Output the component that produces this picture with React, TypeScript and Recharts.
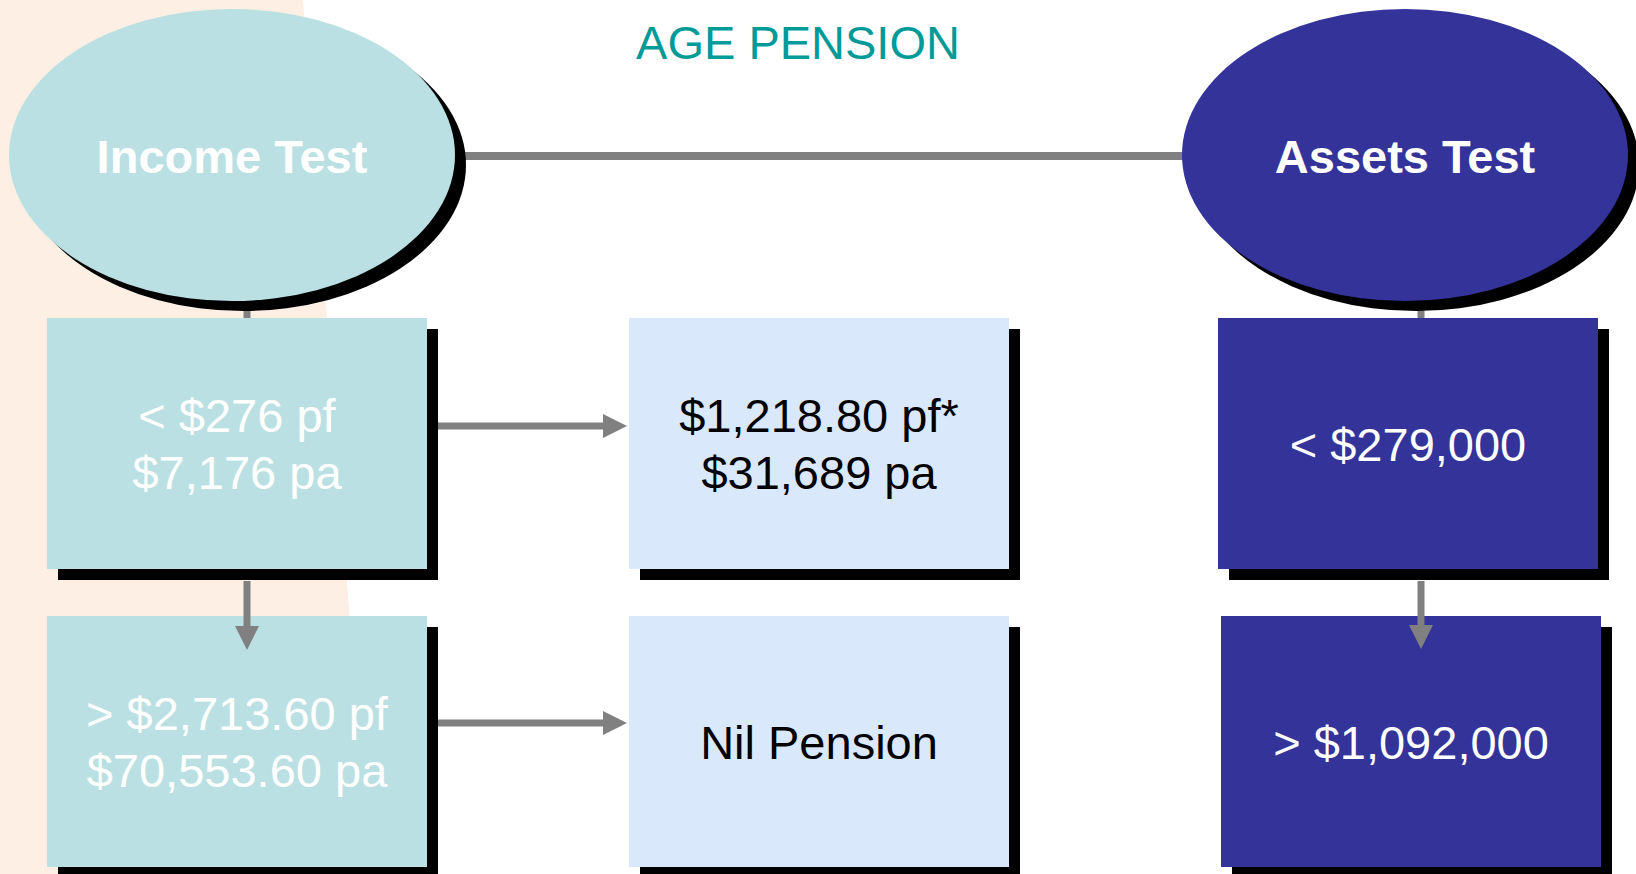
import { ComposedChart, XAxis, YAxis, ReferenceArea, ReferenceLine, Scatter } from 'recharts'

const W = 1636
const H = 874

// text content
const title = 'AGE PENSION'
const tests = ['Income Test', 'Assets Test']
const incomeLines = [['< $276 pf', '$7,176 pa'], ['> $2,713.60 pf', '$70,553.60 pa']]
const pensionLines = [['$1,218.80 pf*', '$31,689 pa'], ['Nil Pension']]
const assetsLines = [['< $279,000'], ['> $1,092,000']]

const TEAL = '#bbe0e3'
const PALE = '#dae8fc'
const NAVY = '#333399'
const GREY = '#808080'
const PEACH = '#fdefe3'
const FONT = '"Liberation Sans", Arial, sans-serif'

// layout in pixels, the axes run 1:1 with the canvas
const ellipseX = [232, 1405]
const ellipseY = 155
const RX = 223
const RY = 146
const rowTop = [318, 616]
const rowBottom = [569, 867]
const colLeft = [[47, 629, 1218], [47, 629, 1221]]
const BOX_W = 380
const SHADOW = 11
const LINE_GAP = 57

const ellipseData = tests.map((name, i) => ({ x: ellipseX[i], y: ellipseY, name, fill: i === 0 ? TEAL : NAVY }))

const boxes = [0, 1].flatMap(r => [
  { x: colLeft[r][0], r, fill: TEAL, color: '#ffffff', lines: incomeLines[r] },
  { x: colLeft[r][1], r, fill: PALE, color: '#000000', lines: pensionLines[r] },
  { x: colLeft[r][2], r, fill: NAVY, color: '#ffffff', lines: assetsLines[r] },
])

const boxLabel = (lines: string[], color: string) => (props: any) => {
  const { x, y, width, height } = props.viewBox
  const cx = x + width / 2
  const first = y + height / 2 - ((lines.length - 1) * LINE_GAP) / 2 + 17
  return (
    <text x={cx} textAnchor="middle" fill={color} fontFamily={FONT} fontSize={47}>
      {lines.map((l, i) => (
        <tspan key={i} x={cx} y={first + i * LINE_GAP}>{l}</tspan>
      ))}
    </text>
  )
}

const ellipseShape = (p: any) => (
  <g>
    <ellipse cx={p.cx + 11} cy={p.cy + 10} rx={RX} ry={RY} fill="#000" />
    <ellipse cx={p.cx} cy={p.cy} rx={RX} ry={RY} fill={p.payload.fill} />
    <text x={p.cx} y={p.cy + 18} textAnchor="middle" fill="#fff" fontFamily={FONT} fontWeight="bold" fontSize={47}>
      {p.payload.name}
    </text>
  </g>
)

const arrowShape = (p: any) => {
  const x1 = Number(p.x1), y1 = Number(p.y1), x2 = Number(p.x2), y2 = Number(p.y2)
  const len = Math.hypot(x2 - x1, y2 - y1) || 1
  const ux = (x2 - x1) / len
  const uy = (y2 - y1) / len
  const bx = x2 - ux * 24
  const by = y2 - uy * 24
  const px = -uy * 12
  const py = ux * 12
  return (
    <g>
      <line x1={x1} y1={y1} x2={bx} y2={by} stroke={GREY} strokeWidth={7} />
      <polygon points={`${x2},${y2} ${bx + px},${by + py} ${bx - px},${by - py}`} fill={GREY} />
    </g>
  )
}

const peachShape = (p: any) => (
  <path
    d={`M${p.x},${p.y} L${p.x + 303},${p.y} L${p.x + p.width},${p.y + p.height} L${p.x},${p.y + p.height} Z`}
    fill={PEACH}
  />
)

const arrows = [
  [{ x: 438, y: 426 }, { x: 627, y: 426 }],
  [{ x: 438, y: 723 }, { x: 627, y: 723 }],
  [{ x: 247, y: 581 }, { x: 247, y: 650 }],
  [{ x: 1421, y: 581 }, { x: 1421, y: 649 }],
]

export default function App() {
  return (
    <div style={{ position: 'absolute', left: 0, top: 0, width: W, height: H, background: '#fff' }}>
      <ComposedChart width={W} height={H} margin={{ top: 0, right: 0, bottom: 0, left: 0 }}>
        <XAxis type="number" dataKey="x" domain={[0, W]} hide allowDataOverflow />
        <YAxis type="number" dataKey="y" domain={[0, H]} reversed hide allowDataOverflow />

        <ReferenceArea x1={0} x2={369} y1={0} y2={H} fill={PEACH} fillOpacity={1} shape={peachShape} />

        {/* connectors */}
        <ReferenceLine segment={[{ x: 440, y: 156 }, { x: 1190, y: 156 }]} stroke={GREY} strokeWidth={8} />
        <ReferenceLine segment={[{ x: 247, y: 300 }, { x: 247, y: 318 }]} stroke={GREY} strokeWidth={7} />
        <ReferenceLine segment={[{ x: 1421, y: 300 }, { x: 1421, y: 318 }]} stroke={GREY} strokeWidth={7} />

        {boxes.map((b, i) => (
          <ReferenceArea
            key={`s${i}`}
            x1={b.x + SHADOW}
            x2={b.x + BOX_W + SHADOW}
            y1={rowTop[b.r] + SHADOW}
            y2={Math.min(rowBottom[b.r] + SHADOW, H)}
            fill="#000"
            fillOpacity={1}
          />
        ))}
        {boxes.map((b, i) => (
          <ReferenceArea
            key={`b${i}`}
            x1={b.x}
            x2={b.x + BOX_W}
            y1={rowTop[b.r]}
            y2={rowBottom[b.r]}
            fill={b.fill}
            fillOpacity={1}
            label={boxLabel(b.lines, b.color)}
          />
        ))}

        {arrows.map((seg, i) => (
          <ReferenceLine key={`a${i}`} segment={seg} stroke={GREY} strokeWidth={7} shape={arrowShape} />
        ))}

        <Scatter data={ellipseData} shape={ellipseShape} isAnimationActive={false} />

        <text x={798} y={59} textAnchor="middle" fill="#009a98" fontFamily={FONT} fontSize={47}>
          {title}
        </text>
      </ComposedChart>
    </div>
  )
}
